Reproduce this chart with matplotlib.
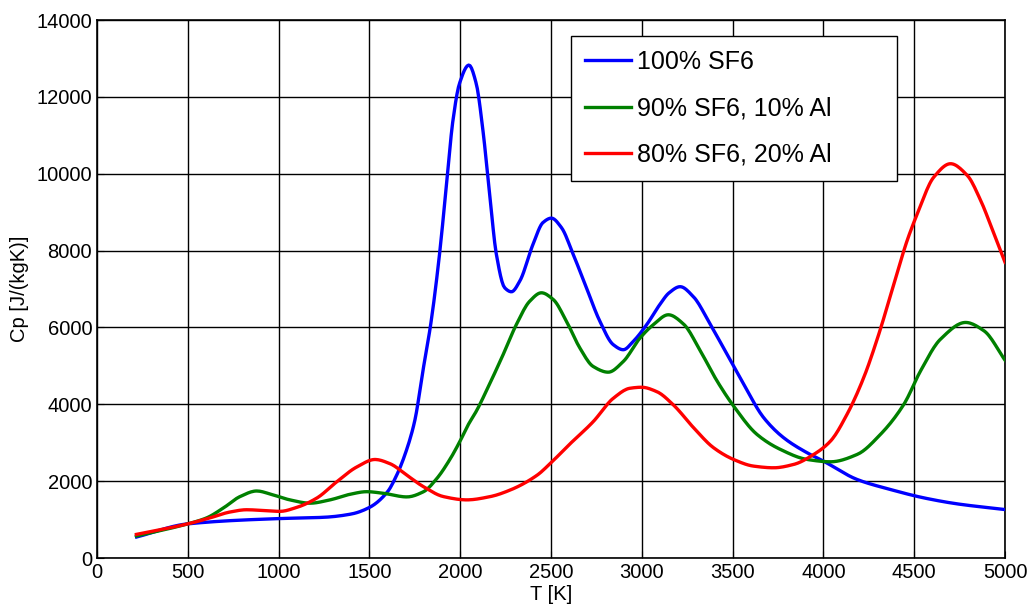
import matplotlib
matplotlib.use("Agg")
import matplotlib.pyplot as plt
import numpy as np

plt.rcParams['font.family'] = ['Liberation Sans', 'DejaVu Sans']

# 100% SF6
T_blue = [218, 500, 1000, 1250, 1400, 1500, 1600, 1650, 1700, 1750, 1794, 1840, 1886, 1923, 1960, 1996,
          2048, 2088, 2125, 2162, 2199, 2245, 2282, 2328, 2401, 2456, 2502, 2557, 2622, 2695, 2769, 2843,
          2898, 2953, 3027, 3101, 3150, 3211, 3284, 3376, 3487, 3561, 3671, 3781, 3910, 4000, 4186, 4369,
          4553, 4737, 5000]
cp_blue = [547, 889, 1026, 1060, 1145, 1316, 1726, 2154, 2750, 3580, 4854, 6161, 7904, 9647, 11390, 12349,
           12828, 12349, 11130, 9470, 7904, 7032, 6928, 7207, 8165, 8732, 8845, 8601, 7904, 7032, 6161, 5551,
           5420, 5638, 6074, 6609, 6900, 7061, 6800, 6087, 5150, 4522, 3652, 3130, 2739, 2522, 2043, 1783,
           1565, 1409, 1261]

# 90% SF6, 10% Al
T_green = [217, 500, 603, 695, 787, 879, 970, 1062, 1173, 1283, 1393, 1485, 1577, 1706, 1798, 1871, 1945,
           2000, 2042, 2092, 2144, 2236, 2309, 2383, 2447, 2512, 2585, 2659, 2732, 2815, 2898, 2990, 3064,
           3146, 3230, 3322, 3414, 3505, 3634, 3763, 3910, 4039, 4186, 4314, 4443, 4535, 4645, 4783, 4884, 5000]
cp_green = [573, 889, 1043, 1299, 1598, 1744, 1641, 1513, 1427, 1513, 1658, 1726, 1684, 1590, 1726, 2068, 2581,
            3051, 3450, 3850, 4350, 5290, 6074, 6684, 6902, 6728, 6161, 5464, 4985, 4836, 5115, 5725, 6074,
            6330, 6087, 5391, 4609, 3957, 3217, 2826, 2565, 2504, 2696, 3217, 4000, 4870, 5696, 6130, 5913, 5148]

# 80% SF6, 20% Al
T_red = [217, 500, 621, 732, 823, 934, 1007, 1099, 1209, 1320, 1430, 1531, 1614, 1706, 1798, 1908, 2036,
         2165, 2275, 2423, 2500, 2600, 2732, 2843, 2935, 2999, 3082, 3174, 3285, 3395, 3505, 3616, 3726,
         3836, 3947, 4039, 4130, 4222, 4305, 4388, 4461, 4517, 4608, 4700, 4792, 4866, 4939, 5000]
cp_red = [615, 889, 1043, 1197, 1256, 1231, 1214, 1316, 1556, 1983, 2368, 2564, 2453, 2154, 1855, 1598, 1513,
          1598, 1769, 2154, 2480, 2950, 3547, 4157, 4418, 4444, 4331, 3983, 3391, 2870, 2565, 2391, 2348,
          2435, 2696, 3043, 3739, 4696, 5826, 7130, 8261, 8957, 9913, 10261, 9957, 9304, 8435, 7696]

labels = ['100% SF6', '90% SF6, 10% Al', '80% SF6, 20% Al']
colors = ['#0000ff', '#008000', '#ff0000']

x_ticks = [0, 500, 1000, 1500, 2000, 2500, 3000, 3500, 4000, 4500, 5000]
y_ticks = [0, 2000, 4000, 6000, 8000, 10000, 12000, 14000]


def smooth(x, y, n=600):
    x = np.asarray(x, float)
    y = np.asarray(y, float)
    # monotone cubic (PCHIP) interpolation for a smooth curve through the read points
    h = np.diff(x)
    d = np.diff(y) / h
    m = np.zeros_like(y)
    for k in range(1, len(y) - 1):
        if d[k - 1] * d[k] > 0:
            w1 = 2 * h[k] + h[k - 1]
            w2 = h[k] + 2 * h[k - 1]
            m[k] = (w1 + w2) / (w1 / d[k - 1] + w2 / d[k])
    m[0] = d[0]
    m[-1] = d[-1]
    xs = np.linspace(x[0], x[-1], n)
    idx = np.clip(np.searchsorted(x, xs) - 1, 0, len(x) - 2)
    t = (xs - x[idx]) / h[idx]
    h00 = 2 * t**3 - 3 * t**2 + 1
    h10 = t**3 - 2 * t**2 + t
    h01 = -2 * t**3 + 3 * t**2
    h11 = t**3 - t**2
    ys = h00 * y[idx] + h10 * h[idx] * m[idx] + h01 * y[idx + 1] + h11 * h[idx] * m[idx + 1]
    return xs, ys


fig = plt.figure(figsize=(10.31, 6.07), dpi=100)
ax = fig.add_axes([0.0941, 0.0807, 0.8807, 0.8863])

for (tx, cy), lab, col in zip([(T_blue, cp_blue), (T_green, cp_green), (T_red, cp_red)], labels, colors):
    xs, ys = smooth(tx, cy)
    ax.plot(xs, ys, color=col, lw=2.4, label=lab, zorder=3)

ax.set_xlim(0, 5000)
ax.set_ylim(0, 14000)
ax.set_xticks(x_ticks)
ax.set_yticks(y_ticks)
ax.grid(True, color='black', lw=1.0, zorder=0)
ax.set_axisbelow(True)
ax.tick_params(direction='in', length=5, labelsize=14.5, colors='black', pad=3.5)
for s in ax.spines.values():
    s.set_color('black')
    s.set_linewidth(1.2)
ax.set_xlabel('T [K]', fontsize=14.5, labelpad=2)
ax.set_ylabel('Cp [J/(kgK)]', fontsize=14.5, labelpad=5)

leg = ax.legend(loc='upper left', bbox_to_anchor=(0.522, 0.706, 0.359, 0.264), mode='expand',
                borderaxespad=0, fontsize=18,
                frameon=True, fancybox=False, edgecolor='black', framealpha=1,
                handlelength=1.85, handletextpad=0.25, labelspacing=0.9, borderpad=0.55)
leg.get_frame().set_linewidth(1.0)

fig.savefig('out.png', dpi=100)
